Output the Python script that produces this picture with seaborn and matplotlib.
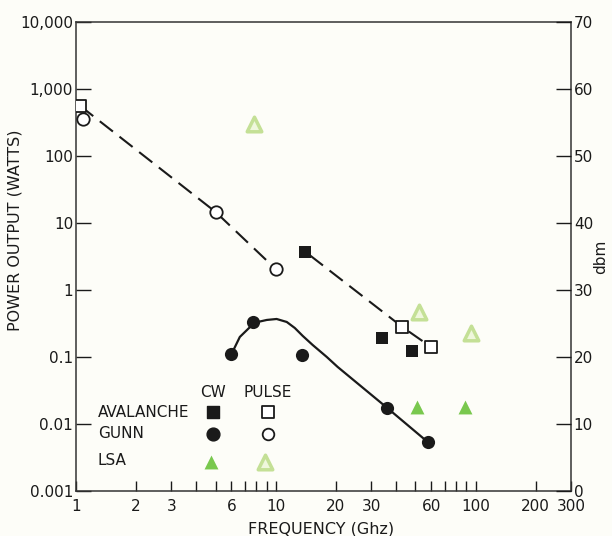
import numpy as np
import pandas as pd
import matplotlib
matplotlib.use("Agg")
import matplotlib.pyplot as plt
import seaborn as sns

# --- data (frequency in GHz, power in watts) ---
aval_cw_f = [14, 34, 48]
aval_cw_p = [3.7, 0.19, 0.123]
aval_pulse_f = [1.05, 43, 60]
aval_pulse_p = [560, 0.28, 0.14]
gunn_cw_f = [6.0, 7.7, 13.5, 36, 57.5]
gunn_cw_p = [0.11, 0.33, 0.107, 0.0175, 0.0054]
gunn_pulse_f = [1.08, 5.0, 10.0]
gunn_pulse_p = [355, 14.6, 2.05]
lsa_cw_f = [51, 88]
lsa_cw_p = [0.018, 0.018]
lsa_pulse_f = [7.8, 52, 95]
lsa_pulse_p = [300, 0.47, 0.23]

# trend lines drawn on the chart
gunn_pulse_line_f = [1.05, 5.0, 10.0]
gunn_pulse_line_p = [560, 14.6, 2.05]
aval_line_f = [14.8, 43, 60]
aval_line_p = [3.3, 0.28, 0.14]
gunn_cw_curve_f = [6.0, 6.61, 7.7, 8.13, 9.02, 10.1, 11.35, 12.45, 13.65,
                   15.3, 18.0, 20.4, 36, 57.5]
gunn_cw_curve_p = [0.11, 0.199, 0.31, 0.333, 0.357, 0.369, 0.333, 0.271, 0.206,
                   0.151, 0.1, 0.071, 0.0175, 0.0054]

x_ticks = [1, 2, 3, 6, 10, 20, 30, 60, 100, 200, 300]
x_minor = [4, 5, 7, 8, 9, 40, 50, 70, 80, 90]
y_ticks = [0.001, 0.01, 0.1, 1, 10, 100, 1000, 10000]
y_labels = ["0.001", "0.01", "0.1", "1", "10", "100", "1,000", "10,000"]
dbm_ticks = [0, 10, 20, 30, 40, 50, 60, 70]

sns.set_style("ticks")
plt.rcParams["font.family"] = ["DejaVu Sans"]
bg = "#fdfdf8"
ink = "#1a1a1a"
green = "#79c84e"
pale_edge = "#c4e096"
pale_face = "#eff7dc"

fig = plt.figure(figsize=(6.12, 5.36), dpi=100, facecolor=bg)
ax = fig.add_axes([0.124, 0.084, 0.809, 0.875])
ax.set_facecolor(bg)
ax.set_xscale("log")
ax.set_yscale("log")

# lines
sns.lineplot(x=gunn_pulse_line_f, y=gunn_pulse_line_p, ax=ax, sort=False, color=ink,
             lw=1.5, linestyle=(0, (8, 4)))
sns.lineplot(x=aval_line_f, y=aval_line_p, ax=ax, sort=False, color=ink,
             lw=1.5, linestyle=(0, (8, 4)))
sns.lineplot(x=gunn_cw_curve_f, y=gunn_cw_curve_p, ax=ax, sort=False, color=ink, lw=1.6)

# markers
ms = 80
sns.scatterplot(x=lsa_pulse_f, y=lsa_pulse_p, ax=ax, marker="^", s=110,
                facecolor=pale_face, edgecolor=pale_edge, linewidth=2.5, zorder=3)
sns.scatterplot(x=lsa_cw_f, y=lsa_cw_p, ax=ax, marker="^", s=100,
                color=green, edgecolor=green, linewidth=0, zorder=3)
sns.scatterplot(x=aval_pulse_f, y=aval_pulse_p, ax=ax, marker="s", s=ms,
                facecolor="white", edgecolor=ink, linewidth=1.3, zorder=4)
sns.scatterplot(x=gunn_pulse_f, y=gunn_pulse_p, ax=ax, marker="o", s=ms,
                facecolor="white", edgecolor=ink, linewidth=1.3, zorder=4)
sns.scatterplot(x=aval_cw_f, y=aval_cw_p, ax=ax, marker="s", s=ms,
                color=ink, edgecolor=ink, linewidth=0, zorder=4)
sns.scatterplot(x=gunn_cw_f, y=gunn_cw_p, ax=ax, marker="o", s=ms + 10,
                color=ink, edgecolor=ink, linewidth=0, zorder=4)

ax.set_xlim(1, 300)
ax.set_ylim(0.001, 10000)
ax.set_xticks(x_ticks)
ax.set_xticklabels([str(t) for t in x_ticks])
ax.set_xticks(x_minor, minor=True)
ax.set_xticklabels([], minor=True)
ax.set_yticks(y_ticks)
ax.set_yticklabels(y_labels)
ax.yaxis.set_minor_locator(matplotlib.ticker.NullLocator())
ax.tick_params(axis="x", which="both", direction="in", length=7, width=1,
               colors=ink, labelsize=11, pad=6)
ax.tick_params(axis="y", which="major", direction="in", length=11, width=1,
               colors=ink, labelsize=11, pad=2)
for s in ax.spines.values():
    s.set_color("#333333")
    s.set_linewidth(1.1)

ax.set_xlabel("FREQUENCY (Ghz)", fontsize=11.5, color=ink)
ax.xaxis.set_label_coords(0.495, -0.065)
ax.set_ylabel("POWER OUTPUT (WATTS)", fontsize=11.5, color=ink)
ax.yaxis.set_label_coords(-0.108, 0.555)

# right dbm axis
ax2 = ax.twinx()
ax2.set_ylim(0, 70)
ax2.set_yticks(dbm_ticks)
ax2.tick_params(axis="y", direction="in", length=11, width=1, colors=ink,
                labelsize=11, pad=2)
for s in ax2.spines.values():
    s.set_visible(False)
fig.text(0.981, 0.52, "dbm", rotation=90, ha="center", va="center",
         fontsize=11, color=ink)

# legend block
tk = dict(transform=ax.transAxes, fontsize=11, color=ink, va="center")
ax.text(0.277, 0.211, "CW", ha="center", **tk)
ax.text(0.388, 0.211, "PULSE", ha="center", **tk)
ax.text(0.044, 0.168, "AVALANCHE", ha="left", **tk)
ax.text(0.044, 0.122, "GUNN", ha="left", **tk)
ax.text(0.044, 0.066, "LSA", ha="left", **tk)
mk = dict(transform=ax.transAxes, clip_on=False, zorder=5)
ax.scatter([0.277], [0.168], marker="s", s=70, color=ink, **mk)
ax.scatter([0.388], [0.168], marker="s", s=70, facecolor="white", edgecolor=ink, linewidth=1.3, **mk)
ax.scatter([0.277], [0.122], marker="o", s=85, color=ink, **mk)
ax.scatter([0.388], [0.122], marker="o", s=70, facecolor="white", edgecolor=ink, linewidth=1.3, **mk)
ax.scatter([0.273], [0.062], marker="^", s=100, color=green, linewidth=0, **mk)
ax.scatter([0.382], [0.062], marker="^", s=110, facecolor=pale_face, edgecolor=pale_edge, linewidth=2.5, **mk)

fig.savefig("out.png", dpi=100, facecolor=bg)
